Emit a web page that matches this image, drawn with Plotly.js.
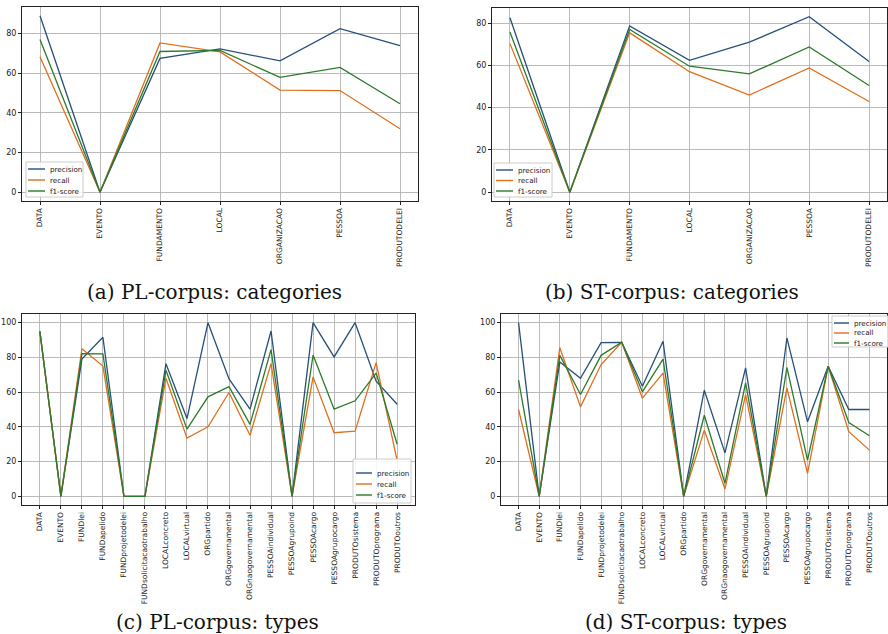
<!DOCTYPE html>
<html>
<head>
<meta charset="utf-8">
<script src="https://cdn.plot.ly/plotly-3.0.1.min.js"></script>
<style>html,body{margin:0;padding:0;background:#fff;}#chart{width:888px;height:634px;}</style>
</head>
<body>
<div id="chart"></div>
<script>
// ---- data ----
const catLabels = ['DATA','EVENTO','FUNDAMENTO','LOCAL','ORGANIZACAO','PESSOA','PRODUTODELEI'];
const plPrecisionCat = [89, 0, 67.5, 72.3, 66.3, 82.5, 74];
const plRecallCat    = [68.3, 0, 75.3, 70.8, 51.5, 51.3, 32];
const plF1Cat        = [77, 0, 71, 71.6, 57.9, 63, 44.6];
const stPrecisionCat = [82.5, 0, 78.7, 62.4, 71, 83, 61.8];
const stRecallCat    = [70.3, 0, 75.4, 57, 46, 58.8, 42.9];
const stF1Cat        = [75.8, 0, 77, 59.6, 56, 68.7, 50.5];

const typeLabels = ['DATA','EVENTO','FUNDlei','FUNDapelido','FUNDprojetodelei','FUNDsolicitacaotrabalho',
  'LOCALconcreto','LOCALvirtual','ORGpartido','ORGgovernamental','ORGnaogovernamental',
  'PESSOAindividual','PESSOAgrupoind','PESSOAcargo','PESSOAgrupocargo','PRODUTOsistema',
  'PRODUTOprograma','PRODUTOoutros'];
const plPrecisionType = [95, 0, 79, 91.6, 0, 0, 76.4, 44.8, 100, 67.6, 50.2, 95.2, 0, 100, 80.3, 100, 66.3, 53];
const plRecallType    = [95, 0, 85, 75, 0, 0, 68, 33.5, 40, 59.8, 35.2, 76.4, 0, 68.8, 36.6, 37.5, 77, 20.5];
const plF1Type        = [95, 0, 82.2, 82, 0, 0, 72.6, 38.7, 57.3, 63.2, 41.4, 84.5, 0, 81.4, 50.2, 55, 71, 30];
const stPrecisionType = [100, 0, 77.4, 68, 88.5, 88.7, 63.4, 89.3, 0, 61.1, 25, 74, 0, 91.2, 42.9, 74.9, 50, 50];
const stRecallType    = [50, 0, 85.6, 51.5, 75.9, 88.7, 56.5, 70.9, 0, 38.1, 4.2, 58.6, 0, 62.5, 13.2, 74.9, 37.2, 26.6];
const stF1Type        = [66.9, 0, 81.2, 58.6, 81.2, 88.7, 60.2, 79, 0, 46.7, 7.5, 65.3, 0, 74.2, 20.9, 74.9, 42.5, 34.9];

const seriesNames = ['precision','recall','f1-score'];
const captions = ['(a) PL-corpus: categories','(b) ST-corpus: categories','(c) PL-corpus: types','(d) ST-corpus: types'];

// ---- styles ----
const W = 888, H = 634;
const colors = ['#274f78', '#df6f1f', '#2c7a2c'];
const px = v => v / W;
const py = v => 1 - v / H;

const panels = [
  {x: catLabels, ys: [plPrecisionCat, plRecallCat, plF1Cat], xd: [22, 418], yd: [7, 201], xr: [-0.3, 6.3], yr: [-4.45, 93.45],
   box: [26, 162, 83, 197], lx: [28, 45], tx: 49, ly: [169, 180, 191]},
  {x: catLabels, ys: [stPrecisionCat, stRecallCat, stF1Cat], xd: [492, 887], yd: [8, 201], xr: [-0.3, 6.3], yr: [-4.15, 87.15],
   box: [494, 163, 552, 197], lx: [496, 513], tx: 517, ly: [170, 180.5, 191]},
  {x: typeLabels, ys: [plPrecisionType, plRecallType, plF1Type], xd: [22, 415], yd: [314, 505], xr: [-0.85, 17.85], yr: [-5, 105],
   box: [353, 459, 411, 503], lx: [356, 372], tx: 376, ly: [473, 484, 495]},
  {x: typeLabels, ys: [stPrecisionType, stRecallType, stF1Type], xd: [501, 887], yd: [314, 505], xr: [-0.85, 17.85], yr: [-5, 105],
   box: [832, 316, 892, 347], lx: [834, 849], tx: 853, ly: [323, 333, 343]}
];

const data = [];
const layout = {
  width: W, height: H,
  margin: {l: 0, r: 0, t: 0, b: 0},
  paper_bgcolor: '#ffffff', plot_bgcolor: '#ffffff',
  font: {family: 'DejaVu Sans, sans-serif', color: '#222', size: 8},
  annotations: [], shapes: [],
  showlegend: false
};

panels.forEach((p, i) => {
  const n = i + 1;
  const xa = 'x' + (n === 1 ? '' : n), ya = 'y' + (n === 1 ? '' : n);
  p.ys.forEach((vals, k) => {
    data.push({
      type: 'scatter', mode: 'lines', x: p.x, y: vals, name: seriesNames[k],
      xaxis: xa, yaxis: ya,
      line: {color: colors[k], width: 1.3}
    });
  });
  const axCommon = {showline: true, mirror: true, linecolor: '#222', linewidth: 1,
    showgrid: true, gridcolor: '#b4b4b4', gridwidth: 0.9, zeroline: false,
    ticks: 'outside', ticklen: 3, tickcolor: '#222', fixedrange: true};
  layout['xaxis' + (n === 1 ? '' : n)] = Object.assign({}, axCommon, {
    type: 'category', domain: [px(p.xd[0]), px(p.xd[1])], range: p.xr,
    anchor: ya, tickangle: -90, tickfont: {size: 7.5, family: 'DejaVu Sans, sans-serif', color: '#222'}
  });
  layout['yaxis' + (n === 1 ? '' : n)] = Object.assign({}, axCommon, {
    domain: [py(p.yd[1]), py(p.yd[0])], range: p.yr, anchor: xa,
    tickvals: [0, 20, 40, 60, 80, 100], tickfont: {size: 8, family: 'DejaVu Sans, sans-serif', color: '#222'}
  });
  // compact matplotlib-style legend
  layout.shapes.push({type: 'rect', xref: 'paper', yref: 'paper', layer: 'above',
    x0: px(p.box[0]), x1: px(p.box[2]), y0: py(p.box[3]), y1: py(p.box[1]),
    fillcolor: 'rgba(255,255,255,0.85)', line: {color: '#cccccc', width: 1}});
  seriesNames.forEach((name, k) => {
    layout.shapes.push({type: 'line', xref: 'paper', yref: 'paper', layer: 'above',
      x0: px(p.lx[0]), x1: px(p.lx[1]), y0: py(p.ly[k]), y1: py(p.ly[k]),
      line: {color: colors[k], width: 1.4}});
    layout.annotations.push({text: name, xref: 'paper', yref: 'paper', x: px(p.tx), y: py(p.ly[k]),
      xanchor: 'left', yanchor: 'middle', showarrow: false, borderpad: 0,
      font: {size: 7.2, family: 'DejaVu Sans, sans-serif', color: '#222'}});
  });
});

const capPos = [[214, 292], [672, 292], [217, 622], [686, 622]];
captions.forEach((c, i) => {
  layout.annotations.push({
    text: c, xref: 'paper', yref: 'paper', x: px(capPos[i][0]), y: py(capPos[i][1]),
    xanchor: 'center', yanchor: 'middle', showarrow: false,
    font: {family: 'DejaVu Serif, serif', size: 20, color: '#111'}
  });
});

Plotly.newPlot('chart', data, layout, {displayModeBar: false, staticPlot: true});
</script>
</body>
</html>
